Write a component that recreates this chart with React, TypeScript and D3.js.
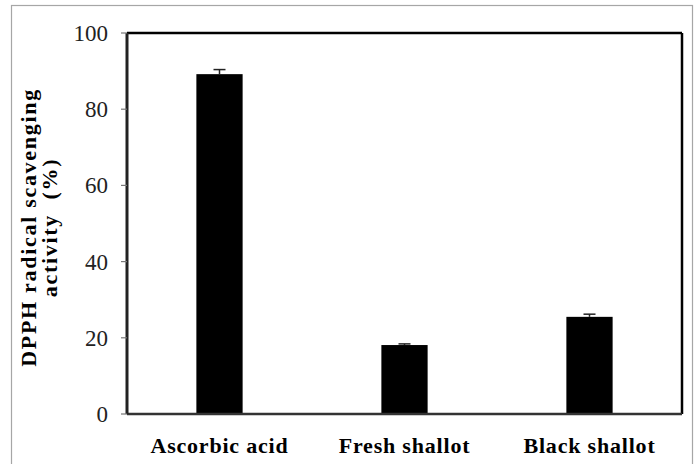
import React from "react";
import * as d3 from "d3";

const categories = ["Ascorbic acid", "Fresh shallot", "Black shallot"];
const values = [89.2, 18.1, 25.5];
const errors = [1.2, 0.3, 0.7];
const yTicks = [0, 20, 40, 60, 80, 100];
const yTitleLines = ["DPPH radical scavenging", "activity  (%)"];

const W = 695;
const H = 464;
const margin = { left: 127, right: 13, top: 33, bottom: 50 };

export default function App() {
  const plotW = W - margin.left - margin.right;
  const plotH = H - margin.top - margin.bottom;
  const x = d3.scaleBand<string>().domain(categories).range([0, plotW]).padding(0);
  const y = d3.scaleLinear().domain([0, 100]).range([plotH, 0]);
  const barW = x.bandwidth() * 0.25;
  const capW = 12;

  return (
    <svg
      width={W}
      height={H}
      style={{ position: "absolute", left: 0, top: 0, background: "#fff" }}
    >
      <rect x={11.5} y={5.5} width={W - 14} height={H} fill="#fff" stroke="#a6a6a6" strokeWidth={1.2} />
      <g transform={`translate(${margin.left},${margin.top})`}>
        {categories.map((c, i) => {
          const cx = (x(c) ?? 0) + x.bandwidth() / 2;
          return (
            <g key={c}>
              <rect x={cx - barW / 2} y={y(values[i])} width={barW} height={plotH - y(values[i])} fill="#000" />
              <line x1={cx} x2={cx} y1={y(values[i])} y2={y(values[i] + errors[i])} stroke="#222" strokeWidth={1.5} />
              <line x1={cx - capW / 2} x2={cx + capW / 2} y1={y(values[i] + errors[i])} y2={y(values[i] + errors[i])} stroke="#222" strokeWidth={1.5} />
              <text
                x={cx}
                y={plotH + 39}
                textAnchor="middle"
                fontFamily="Liberation Serif"
                fontWeight="bold"
                fontSize={22}
                letterSpacing={0.8}
                fill="#000"
              >
                {c}
              </text>
            </g>
          );
        })}
        {/* frame */}
        <line x1={0} x2={plotW} y1={0} y2={0} stroke="#000" strokeWidth={2.5} />
        <line x1={plotW} x2={plotW} y1={0} y2={plotH} stroke="#000" strokeWidth={2.5} />
        <line x1={0} x2={plotW} y1={plotH} y2={plotH} stroke="#333" strokeWidth={2.5} />
        <line x1={0} x2={0} y1={0} y2={plotH} stroke="#222" strokeWidth={3} />
        {yTicks.map((t) => (
          <g key={t} transform={`translate(0,${y(t)})`}>
            <line x1={-6} x2={0} stroke="#777" strokeWidth={1.2} />
            <text
              x={-19}
              dy="0.35em"
              textAnchor="end"
              fontFamily="Liberation Serif"
              fontSize={23}
              fill="#222"
            >
              {t}
            </text>
          </g>
        ))}
      </g>
      <g transform={`translate(36,${margin.top + plotH / 2 + 4}) rotate(-90)`}>
        {yTitleLines.map((l, i) => (
          <text
            key={l}
            x={0}
            y={i * 21}
            textAnchor="middle"
            fontFamily="Liberation Serif"
            fontWeight="bold"
            fontSize={22}
            letterSpacing={1.7}
            fill="#000"
            style={{ whiteSpace: "pre" }}
          >
            {l}
          </text>
        ))}
      </g>
    </svg>
  );
}
